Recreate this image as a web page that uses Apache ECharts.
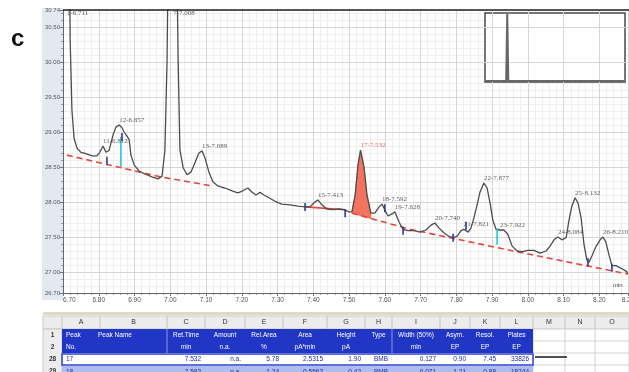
<!DOCTYPE html>
<html>
<head>
<meta charset="utf-8">
<script src="https://cdn.jsdelivr.net/npm/echarts@6/dist/echarts.min.js"></script>
<style>
  html, body { margin: 0; padding: 0; background: #fff; }
  #chart { width: 629px; height: 372px; }
</style>
</head>
<body>
<div id="chart"></div>
<script>
// ---- chromatogram trace: retention time (min) and detector signal ----
const traceTime = [
  6.703, 6.711, 6.717, 6.720, 6.725, 6.731, 6.739, 6.750, 6.764, 6.781,
  6.795, 6.803, 6.812, 6.820, 6.829, 6.840, 6.848, 6.857, 6.865, 6.871,
  6.879, 6.885, 6.890, 6.899, 6.913, 6.929, 6.949, 6.966, 6.977, 6.985,
  6.991, 6.996, 7.008, 7.016, 7.022, 7.027, 7.036, 7.047, 7.058, 7.069,
  7.080, 7.089, 7.097, 7.108, 7.119, 7.133, 7.153, 7.173, 7.189, 7.203,
  7.217, 7.229, 7.240, 7.251, 7.262, 7.276, 7.293, 7.312, 7.335, 7.357,
  7.377, 7.391, 7.402, 7.413, 7.424, 7.438, 7.455, 7.472, 7.486, 7.500,
  7.508, 7.517, 7.525, 7.532, 7.542, 7.550, 7.561, 7.572, 7.584, 7.592,
  7.600, 7.609, 7.620, 7.628, 7.640, 7.651, 7.665, 7.682, 7.698, 7.715,
  7.729, 7.740, 7.751, 7.765, 7.779, 7.791, 7.802, 7.813, 7.821, 7.833,
  7.841, 7.849, 7.858, 7.866, 7.877, 7.886, 7.894, 7.902, 7.911, 7.922,
  7.933, 7.944, 7.956, 7.970, 7.984, 8.000, 8.017, 8.034, 8.051, 8.062,
  8.073, 8.084, 8.095, 8.107, 8.115, 8.123, 8.132, 8.140, 8.149, 8.157,
  8.165, 8.171, 8.179, 8.190, 8.202, 8.210, 8.218, 8.227, 8.235, 8.246,
  8.258, 8.269, 8.280
];
const traceSignal = [
  32.31, 35.17, 32.31, 30.31, 29.31, 28.91, 28.77, 28.71, 28.69, 28.66,
  28.66, 28.71, 28.80, 28.71, 28.74, 28.96, 29.07, 29.10, 29.06, 29.00,
  28.94, 28.89, 28.67, 28.53, 28.44, 28.40, 28.36, 28.33, 28.37, 28.74,
  30.03, 32.31, 35.17, 32.31, 30.03, 28.74, 28.49, 28.39, 28.43, 28.56,
  28.70, 28.73, 28.63, 28.43, 28.29, 28.23, 28.20, 28.16, 28.13, 28.16,
  28.20, 28.14, 28.10, 28.14, 28.10, 28.06, 28.01, 27.97, 27.96, 27.94,
  27.93, 27.93, 27.99, 28.03, 27.96, 27.90, 27.89, 27.90, 27.89, 27.86,
  27.86, 28.10, 28.53, 28.74, 28.49, 28.10, 27.84, 27.84, 27.93, 27.97,
  27.89, 27.80, 27.83, 27.86, 27.71, 27.61, 27.59, 27.59, 27.57, 27.60,
  27.67, 27.70, 27.63, 27.56, 27.51, 27.49, 27.51, 27.59, 27.61, 27.57,
  27.63, 27.77, 27.96, 28.14, 28.27, 28.20, 27.99, 27.74, 27.61, 27.60,
  27.60, 27.54, 27.37, 27.30, 27.29, 27.31, 27.31, 27.27, 27.30, 27.37,
  27.46, 27.50, 27.46, 27.49, 27.74, 27.94, 28.06, 27.99, 27.77, 27.39,
  27.17, 27.14, 27.23, 27.36, 27.46, 27.50, 27.43, 27.24, 27.09, 27.09,
  27.06, 27.03, 26.99
];

// ---- detected peaks (number, apex time, apex signal) ----
const peakNo     = [1, 7, 11, 12, 13, 15, 17, 18, 19, 20, 21, 22, 23, 24, 25, 26];
const peakTime   = [6.711, 7.008, 6.812, 6.857, 7.089, 7.413, 7.532, 7.592, 7.628, 7.740, 7.821, 7.877, 7.922, 8.084, 8.132, 8.210];
const peakSignal = [35.17, 35.17, 28.80, 29.10, 28.73, 28.03, 28.74, 27.97, 27.86, 27.70, 27.61, 28.27, 27.60, 27.50, 28.06, 27.50];
const highlightedPeak = 17;

// ---- integration baselines ----
const baseline1Time = [6.711, 6.971, 7.117];
const baseline1Signal = [28.67, 28.36, 28.23];
const baseline2Time = [7.377, 7.489];
const baseline2Signal = [27.93, 27.89];
const baseline3Time = [7.508, 7.670, 7.950, 8.280];
const baseline3Signal = [27.84, 27.61, 27.31, 26.97];
const filledPeakWindow = [7.508, 7.561];

// ---- peak delimiters and peak split drop lines ----
const delimiterTime   = [6.823, 6.865, 7.377, 7.489, 7.600, 7.651, 7.791, 7.827, 8.168, 8.235];
const delimiterSignal = [28.59, 28.93, 27.93, 27.84, 27.91, 27.59, 27.49, 27.66, 27.14, 27.06];
const dropTime   = [6.862, 7.914];
const dropTop    = [28.93, 27.63];
const dropBottom = [28.50, 27.39];

// ---- axis ticks ----
const xMin = 6.70, xMax = 8.28, xStep = 0.1, xMinorStep = 0.02;
const yMin = 26.70, yMax = 30.743, yMinorStep = 0.1;
const yTicks = [26.70, 27.00, 27.50, 28.00, 28.50, 29.00, 29.50, 30.00, 30.50, 30.74];

// ---- overview thumbnail ----
const overviewTime = [0, 0.95, 1.0, 1.05, 6.5];
const overviewSignal = [0, 0, 100, 0, 0];

// ---- peak table ----
const tableColumns = ['A','B','C','D','E','F','G','H','I','J','K','L','M','N','O'];
const tableRowNumbers = ['1', '2', '28', '29'];
const headerLine1 = ['Peak', 'Peak Name', 'Ret.Time', 'Amount', 'Rel.Area', 'Area', 'Height', 'Type', 'Width (50%)', 'Asym.', 'Resol.', 'Plates'];
const headerLine2 = ['No.', '', 'min', 'n.a.', '%', 'pA*min', 'pA', '', 'min', 'EP', 'EP', 'EP'];
const rowPeakA = ['17', '', '7.532', 'n.a.', '5.78', '2.5315', '1.90', 'BMB', '0.127', '0.90', '7.45', '33826'];
const rowPeakB = ['18', '', '7.592', 'n.a.', '1.24', '0.5563', '0.42', 'BMB', '0.071', '1.21', '0.88', '18744'];

function interp(ts, vs, t) {
  for (let i = 0; i < ts.length - 1; i++) {
    if (t >= ts[i] && t <= ts[i + 1]) {
      return vs[i] + (vs[i + 1] - vs[i]) * (t - ts[i]) / (ts[i + 1] - ts[i]);
    }
  }
  return t < ts[0] ? vs[0] : vs[vs.length - 1];
}

const zip = (a, b) => a.map((v, i) => [v, b[i]]);
const AXIS_FONT = 'Liberation Sans';
const PEAK_FONT = 'Liberation Serif';

// ---- table graphics ----
const colEdges = [43, 62, 100, 167, 205, 245, 283, 327, 365, 392, 440, 470, 500, 533, 565, 595, 629];
const rowTop = [316, 329, 341, 354, 366];
const rowBottom = [329, 341, 353, 365, 378];
const dataColumns = 12;           // A..L carry values
const blueRight = colEdges[dataColumns + 1];
const tableGraphics = [];

// tan frame line above the sheet
tableGraphics.push({ type: 'rect', shape: { x: 43, y: 312, width: 586, height: 3 }, style: { fill: '#e2d9c3' } });
// column letters row
tableGraphics.push({ type: 'rect', shape: { x: 43, y: rowTop[0], width: 586, height: 13 }, style: { fill: '#ececec', stroke: '#c9c9c9', lineWidth: 1 } });
// row-number column
tableGraphics.push({ type: 'rect', shape: { x: 43, y: rowTop[1], width: 19, height: 49 }, style: { fill: '#ececec', stroke: '#c9c9c9', lineWidth: 1 } });
tableColumns.forEach((c, i) => {
  const x0 = colEdges[i + 1], x1 = colEdges[i + 2];
  tableGraphics.push({ type: 'line', shape: { x1: x0, y1: rowTop[0], x2: x0, y2: rowBottom[0] }, style: { stroke: '#c4c4c4', lineWidth: 1 } });
  tableGraphics.push({ type: 'text', x: (x0 + x1) / 2, y: 322.5, style: { text: c, fill: '#333', font: '7px ' + AXIS_FONT, align: 'center', verticalAlign: 'middle' } });
});
tableRowNumbers.forEach((n, r) => {
  tableGraphics.push({ type: 'text', x: 52.5, y: (rowTop[r + 1] + Math.min(rowBottom[r + 1], 372)) / 2 + (r === 3 ? 2 : 0), style: { text: n, fill: '#333', font: 'bold 6.5px ' + AXIS_FONT, align: 'center', verticalAlign: 'middle' } });
});
// empty cells M..O
for (let r = 1; r < 5; r++) {
  tableGraphics.push({ type: 'line', shape: { x1: blueRight, y1: rowBottom[r], x2: 629, y2: rowBottom[r] }, style: { stroke: '#d2d2d2', lineWidth: 1 } });
}
for (let i = dataColumns + 1; i < colEdges.length; i++) {
  tableGraphics.push({ type: 'line', shape: { x1: colEdges[i], y1: rowTop[1], x2: colEdges[i], y2: 372 }, style: { stroke: '#d2d2d2', lineWidth: 1 } });
}
tableGraphics.push({ type: 'line', shape: { x1: 535, y1: 357, x2: 567, y2: 357 }, style: { stroke: '#222', lineWidth: 1.6 } });
// blue header block
tableGraphics.push({ type: 'rect', shape: { x: 62, y: rowTop[1], width: blueRight - 62, height: rowBottom[2] - rowTop[1] }, style: { fill: '#2236c6' } });
[167, 392].forEach(x => tableGraphics.push({ type: 'line', shape: { x1: x, y1: rowTop[1], x2: x, y2: rowBottom[2] }, style: { stroke: '#8c98e6', lineWidth: 1 } }));
// data rows
tableGraphics.push({ type: 'rect', shape: { x: 62, y: rowTop[3], width: blueRight - 62, height: rowBottom[3] - rowTop[3] }, style: { fill: '#ffffff', stroke: '#2a3fd0', lineWidth: 1.5 } });
tableGraphics.push({ type: 'rect', shape: { x: 62, y: rowTop[4], width: blueRight - 62, height: rowBottom[4] - rowTop[4] }, style: { fill: '#aebdee' } });

function cellText(row, vals, color, rightAlign) {
  vals.forEach((v, i) => {
    if (!v) return;
    const x0 = colEdges[i + 1], x1 = colEdges[i + 2];
    let x, align;
    if (i === 0 || i === 1) { x = (i === 1 ? 98 : x0 + 4); align = 'left'; }
    else if (rightAlign) { x = x1 - 4; align = 'right'; }
    else { x = (x0 + x1) / 2; align = 'center'; }
    tableGraphics.push({ type: 'text', x: x, y: (rowTop[row] + rowBottom[row]) / 2, style: { text: v, fill: color, font: '6.5px ' + AXIS_FONT, align: align, verticalAlign: 'middle' } });
  });
}
cellText(1, headerLine1, '#ffffff', false);
cellText(2, headerLine2, '#ffffff', false);
cellText(3, rowPeakA, '#1b2a9c', true);
cellText(4, rowPeakB, '#1b2a9c', true);

const option = {
  animation: false,
  backgroundColor: '#ffffff',
  grid: [
    { left: 63, top: 10, width: 565, height: 283, containLabel: false, outerBoundsMode: 'none' },
    { left: 486, top: 14, width: 138, height: 67, containLabel: false, outerBoundsMode: 'none' }
  ],
  xAxis: [
    {
      type: 'value', gridIndex: 0, min: xMin, max: xMax, interval: xStep, position: 'bottom', z: 1,
      axisLine: { show: true, onZero: false, lineStyle: { color: '#666', width: 1 } },
      axisTick: { show: true, length: 3, lineStyle: { color: '#777' } },
      axisLabel: { show: true, fontSize: 6.5, fontFamily: AXIS_FONT, color: '#555', margin: 4,
        formatter: v => v.toFixed(2), alignMinLabel: 'left', showMinLabel: true, showMaxLabel: true },
      splitLine: { show: true, lineStyle: { color: '#d6d6d6', width: 1 } }
    },
    {
      type: 'value', gridIndex: 0, min: xMin, max: xMax, interval: xMinorStep, position: 'bottom', z: 0,
      axisLine: { show: false }, axisLabel: { show: false },
      axisTick: { show: true, length: 2, lineStyle: { color: '#999' } },
      splitLine: { show: true, lineStyle: { color: '#efefef', width: 1 } }
    },
    { type: 'value', gridIndex: 1, min: 0, max: 6.5, show: false }
  ],
  yAxis: [
    {
      type: 'value', gridIndex: 0, min: yMin, max: yMax, position: 'left', z: 1,
      axisLine: { show: true, onZero: false, lineStyle: { color: '#666', width: 1 } },
      axisTick: { show: true, length: 3, customValues: yTicks, lineStyle: { color: '#777' } },
      axisLabel: { show: true, fontSize: 6, fontFamily: AXIS_FONT, color: '#555', margin: 3,
        customValues: yTicks, formatter: v => v.toFixed(2) },
      splitLine: { show: true, lineStyle: { color: '#d6d6d6', width: 1 } }
    },
    {
      type: 'value', gridIndex: 0, min: yMin, max: yMax, interval: yMinorStep, position: 'left', z: 0,
      axisLine: { show: false }, axisLabel: { show: false },
      axisTick: { show: true, length: 2, lineStyle: { color: '#999' } },
      splitLine: { show: true, lineStyle: { color: '#efefef', width: 1 } }
    },
    { type: 'value', gridIndex: 1, min: 0, max: 100, show: false }
  ],
  graphic: [
    { type: 'rect', z: -10, shape: { x: 42, y: 8, width: 21, height: 292 }, style: { fill: '#e2e9f1' } },
    { type: 'line', z: 10, shape: { x1: 63, y1: 10, x2: 629, y2: 10 }, style: { stroke: '#222', lineWidth: 1.5 } },
    { type: 'rect', z: 1, shape: { x: 485, y: 13, width: 140, height: 69 }, style: { fill: '#ffffff', stroke: '#4a4a4a', lineWidth: 1.5 } },
    { type: 'text', z: 10, x: 11, y: 27, style: { text: 'c', fill: '#111', font: 'bold 24px ' + AXIS_FONT } },
    { type: 'text', z: 10, x: 613, y: 282, style: { text: 'min', fill: '#444', font: '6px ' + AXIS_FONT } },
    ...tableGraphics.map(g => Object.assign({ z: 5 }, g))
  ],
  series: [
    // filled area of the highlighted peak above its baseline
    {
      type: 'custom', xAxisIndex: 0, yAxisIndex: 0, z: 2, silent: true,
      data: [[filledPeakWindow[0], yMin]],
      renderItem: (params, api) => {
        const [w0, w1] = filledPeakWindow;
        const pts = [];
        traceTime.forEach((t, i) => {
          if (t >= w0 - 1e-9 && t <= w1 + 1e-9) pts.push(api.coord([t, traceSignal[i]]));
        });
        pts.push(api.coord([w1, interp(baseline3Time, baseline3Signal, w1)]));
        pts.push(api.coord([w0, interp(baseline3Time, baseline3Signal, w0)]));
        return { type: 'polygon', shape: { points: pts }, style: { fill: '#f2735f', stroke: '#e8503c', lineWidth: 0.6 } };
      }
    },
    {
      type: 'line', xAxisIndex: 0, yAxisIndex: 0, z: 3, symbol: 'none', silent: true,
      data: zip(baseline1Time, baseline1Signal),
      lineStyle: { color: '#e8443a', width: 1.6, type: [6, 4] }
    },
    {
      type: 'line', xAxisIndex: 0, yAxisIndex: 0, z: 3, symbol: 'none', silent: true,
      data: zip(baseline2Time, baseline2Signal),
      lineStyle: { color: '#e8443a', width: 1.6 }
    },
    {
      type: 'line', xAxisIndex: 0, yAxisIndex: 0, z: 3, symbol: 'none', silent: true,
      data: zip(baseline3Time, baseline3Signal),
      lineStyle: { color: '#e8443a', width: 1.6, type: [6, 4] }
    },
    // detector trace
    {
      type: 'line', xAxisIndex: 0, yAxisIndex: 0, z: 4, symbol: 'none', silent: true, clip: true,
      data: zip(traceTime, traceSignal),
      lineStyle: { color: '#4d4d4d', width: 1.3 }
    },
    // peak split drop lines
    {
      type: 'custom', xAxisIndex: 0, yAxisIndex: 0, z: 5, silent: true,
      data: dropTime.map((t, i) => [t, dropTop[i], dropBottom[i]]),
      renderItem: (params, api) => {
        const a = api.coord([api.value(0), api.value(1)]);
        const b = api.coord([api.value(0), api.value(2)]);
        return { type: 'line', shape: { x1: a[0], y1: a[1], x2: b[0], y2: b[1] }, style: { stroke: '#25c4e0', lineWidth: 1.6 } };
      }
    },
    // peak start / end delimiters
    {
      type: 'custom', xAxisIndex: 0, yAxisIndex: 0, z: 5, silent: true,
      data: zip(delimiterTime, delimiterSignal),
      renderItem: (params, api) => {
        const p = api.coord([api.value(0), api.value(1)]);
        return { type: 'line', shape: { x1: p[0], y1: p[1] - 4, x2: p[0], y2: p[1] + 4 }, style: { stroke: '#2b3aa6', lineWidth: 1.6 } };
      }
    },
    // peak annotations
    {
      type: 'scatter', xAxisIndex: 0, yAxisIndex: 0, z: 6, silent: true,
      symbolSize: 1, itemStyle: { color: 'rgba(0,0,0,0)' },
      data: peakNo.map((n, i) => ({
        value: [peakTime[i], Math.min(peakSignal[i], yMax - 0.12)],
        label: {
          show: true, position: 'top', align: 'left', distance: 1,
          formatter: n + '-' + peakTime[i].toFixed(3),
          fontSize: 7, fontFamily: PEAK_FONT,
          color: n === highlightedPeak ? '#e0412f' : '#333'
        }
      }))
    },
    // overview thumbnail
    {
      type: 'line', xAxisIndex: 2, yAxisIndex: 2, z: 6, symbol: 'none', silent: true,
      data: zip(overviewTime, overviewSignal),
      lineStyle: { color: '#666', width: 2 }
    }
  ]
};

const chart = echarts.init(document.getElementById('chart'), null, { renderer: 'canvas' });
chart.setOption(option);
</script>
</body>
</html>
